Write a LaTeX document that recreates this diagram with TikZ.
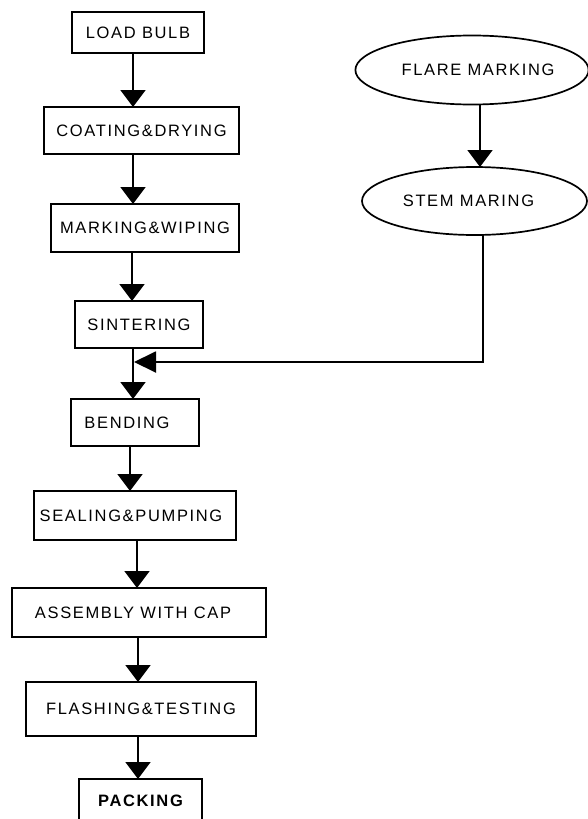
\documentclass[tikz,border=0pt]{standalone}
\usepackage{fontspec}
\setmainfont{Liberation Sans}
\newfontfamily\labelfont[LetterSpace=10]{Liberation Sans}
\usetikzlibrary{arrows.meta,shapes.geometric}

\begin{document}
\begin{tikzpicture}[x=1pt,y=-1pt,
  every node/.style={font=\labelfont\fontsize{16.5}{19}\selectfont, inner sep=0pt, outer sep=0pt},
  procbox/.style={draw, line width=1.9pt, rectangle},
  oval/.style={draw, line width=1.7pt, ellipse},
  flow/.style={line width=1.9pt, -{Triangle[width=25pt,length=17pt]}},
  sideflow/.style={line width=1.9pt, -{Triangle[width=21pt,length=22pt]}}
]
\useasboundingbox[fill=white] (0,0) rectangle (588,819);

% main process column: boxes given by their centre and size
\node[procbox, minimum width=132pt, minimum height=41pt] (load)  at (138,32.5)  {LOAD BULB};
\node[procbox, minimum width=195pt, minimum height=47pt] (coat)  at (141.5,130.5) {COATING\&DRYING};
\node[procbox, minimum width=188pt, minimum height=48pt] (mark)  at (145,228)   {MARKING\&WIPING};
\node[procbox, minimum width=128pt, minimum height=47pt] (sint)  at (139,324.5) {SINTERING};
\node[procbox, minimum width=128pt, minimum height=47pt] (bend)  at (135,422.5) {BENDING\hspace*{16pt}};
\node[procbox, minimum width=202pt, minimum height=49pt] (seal)  at (135,515.5) {SEALING\&PUMPING\hspace*{8pt}};
\node[procbox, minimum width=254pt, minimum height=49pt] (asm)   at (139,612.5) {ASSEMBLY WITH CAP\hspace*{12pt}};
\node[procbox, minimum width=230pt, minimum height=54pt] (flash) at (141,709)   {FLASHING\&TESTING};
\node[procbox, minimum width=123pt, minimum height=43pt] (pack)  at (140.5,800.5) {\bfseries PACKING};

% side branch
\node[oval, minimum width=230pt, minimum height=69pt] (flare) at (472,70)  {\hspace*{12pt}FLARE MARKING};
\node[oval, minimum width=225pt, minimum height=68pt] (stem)  at (474.5,201) {STEM MARING\hspace*{12pt}};

% vertical lines of the connectors
\coordinate (xa) at (133,0);
\coordinate (xb) at (132,0);
\coordinate (xc) at (130,0);
\coordinate (xd) at (137,0);
\coordinate (xe) at (138,0);
\coordinate (xf) at (480,0);
\coordinate (xg) at (483,0);
\coordinate (join) at (134,362);

\draw[flow] (load.south -| xa) -- (coat.north -| xa);
\draw[flow] (coat.south -| xa) -- (mark.north -| xa);
\draw[flow] (mark.south -| xb) -- (sint.north -| xb);
\draw[flow] (sint.south -| xa) -- (bend.north -| xa);
\draw[flow] (bend.south -| xc) -- (seal.north -| xc);
\draw[flow] (seal.south -| xd) -- (asm.north -| xd);
\draw[flow] (asm.south -| xe) -- (flash.north -| xe);
\draw[flow] (flash.south -| xe) -- (pack.north -| xe);

\draw[flow] (flare.south -| xf) -- (stem.north -| xf);
\draw[sideflow] (stem.south -| xg) |- (join);
\end{tikzpicture}
\end{document}
